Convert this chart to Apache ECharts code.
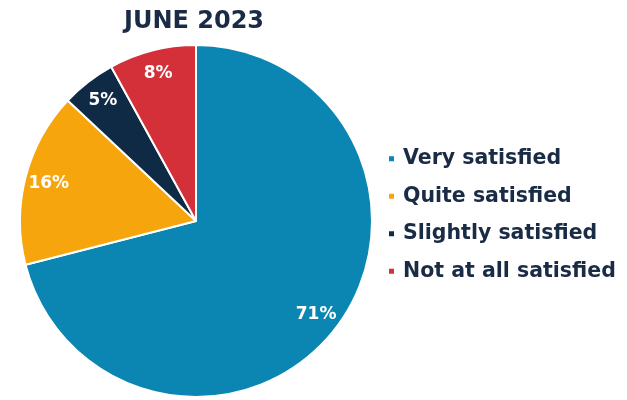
<!DOCTYPE html>
<html>
<head>
<meta charset="utf-8">
<script src="https://cdn.jsdelivr.net/npm/echarts@6/dist/echarts.min.js"></script>
<style>
  html, body { margin: 0; padding: 0; background: #ffffff; }
  #chart { width: 627px; height: 400px; }
</style>
</head>
<body>
<div id="chart"></div>
<script>
// Satisfaction survey, June 2023
const titleText = 'JUNE 2023';
const categories = ['Very satisfied', 'Quite satisfied', 'Slightly satisfied', 'Not at all satisfied'];
const shares = [71, 16, 5, 8];
const colors = ['#0b86b2', '#f6a50c', '#0f2a45', '#d3303a'];

const navy = '#1a2b45';
const font = '"DejaVu Sans", sans-serif';

const pieData = categories.map((name, i) => ({
  name: name,
  value: shares[i],
  itemStyle: { color: colors[i] }
}));

const chart = echarts.init(document.getElementById('chart'), null, { renderer: 'canvas' });

chart.setOption({
  backgroundColor: '#ffffff',
  animation: false,
  title: {
    text: titleText,
    left: 189,
    textAlign: 'center',
    top: 5,
    padding: 5,
    textStyle: { color: navy, fontFamily: font, fontWeight: 'bold', fontSize: 24 }
  },
  legend: {
    orient: 'vertical',
    left: 382,
    top: 143,
    padding: 5,
    icon: 'rect',
    itemWidth: 7,
    itemHeight: 7,
    itemGap: 16,
    data: categories,
    selectedMode: false,
    textStyle: {
      color: navy, fontFamily: font, fontWeight: 'bold',
      fontSize: 20.5, lineHeight: 21.5, padding: [0, 0, 0, 3]
    }
  },
  series: [
    {
      // the slices
      type: 'pie',
      center: [196, 221],
      radius: 176,
      startAngle: 90,
      clockwise: true,
      silent: true,
      label: { show: false },
      labelLine: { show: false },
      itemStyle: { borderColor: '#ffffff', borderWidth: 2 },
      data: pieData
    },
    {
      // percentage labels placed near the rim
      type: 'pie',
      center: [196, 221],
      radius: [122, 176],
      startAngle: 90,
      clockwise: true,
      silent: true,
      legendHoverLink: false,
      itemStyle: { color: 'rgba(0,0,0,0)' },
      label: {
        show: true,
        position: 'inside',
        formatter: '{c}%',
        color: '#ffffff',
        fontFamily: font,
        fontWeight: 'bold',
        fontSize: 17
      },
      labelLine: { show: false },
      data: categories.map((name, i) => ({ name: name, value: shares[i] }))
    }
  ]
});
</script>
</body>
</html>
